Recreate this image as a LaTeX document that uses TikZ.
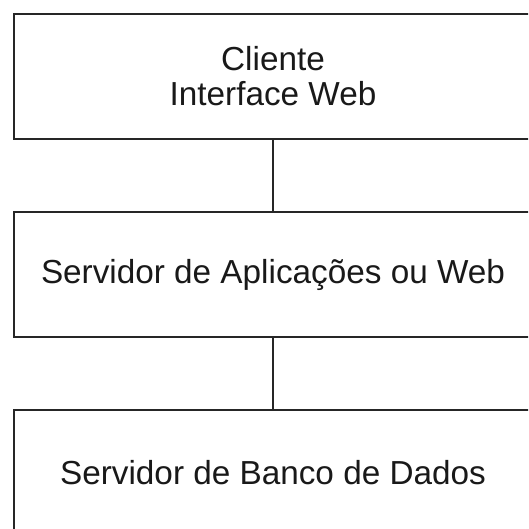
\documentclass[tikz,border=0pt]{standalone}
\usepackage{fontspec}
\setmainfont{Liberation Sans}
\begin{document}
\begin{tikzpicture}[x=1pt,y=-1pt,
  tier/.style={draw=black!85, line width=1.8pt, minimum width=518pt,
    minimum height=125pt, inner sep=0pt, align=center,
    font=\fontsize{33.3}{35}\selectfont, text=black!90},
  link/.style={draw=black!85, line width=1.8pt}]
  \useasboundingbox (0,0) rectangle (528,529);
  \clip (0,0) rectangle (528,529);
  % three stacked tiers, each running past the right and lower edges
  \node[tier] (cliente) at (273,76.5) {Cliente\\Interface Web};
  \node[tier] (app) at (273,274.5) {Servidor de Aplicações ou Web};
  \node[tier] (db) at (273,472.5) {Servidor de Banco de Dados};
  % vertical links between the tiers
  \draw[link] (cliente) -- (app);
  \draw[link] (app) -- (db);
\end{tikzpicture}
\end{document}
